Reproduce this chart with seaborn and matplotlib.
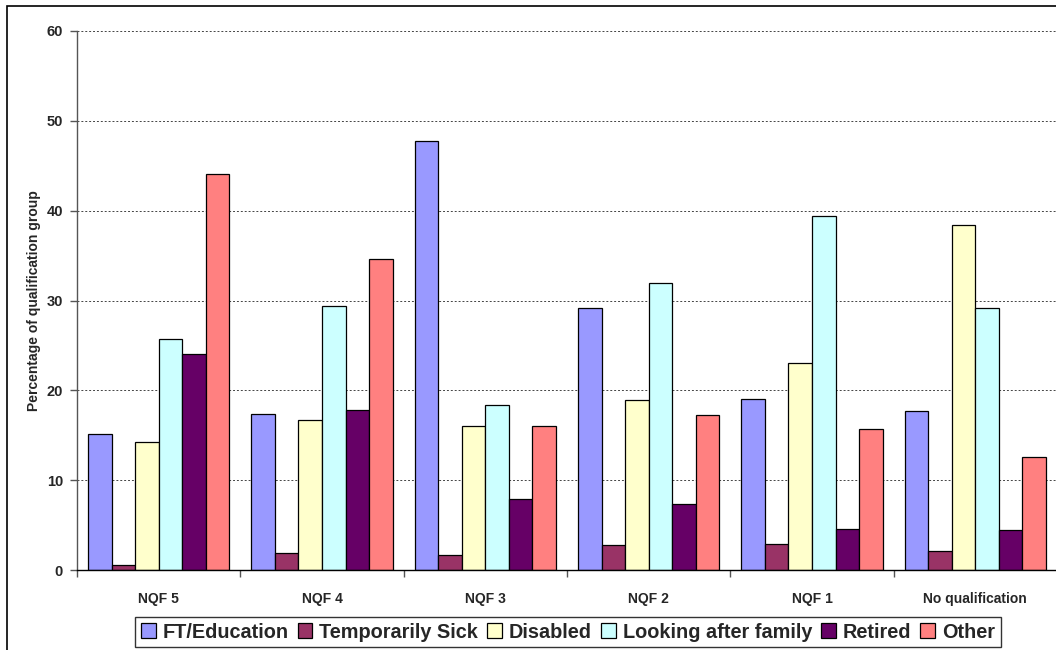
import matplotlib
matplotlib.use("Agg")
import matplotlib.pyplot as plt
import seaborn as sns
import pandas as pd
from matplotlib.patches import Rectangle
from matplotlib.ticker import FixedLocator, MultipleLocator

categories = ["NQF 5", "NQF 4", "NQF 3", "NQF 2", "NQF 1", "No qualification"]
series = ["FT/Education", "Temporarily Sick", "Disabled", "Looking after family", "Retired", "Other"]

ft_education = [15.1, 17.4, 47.7, 29.2, 19.0, 17.7]
temporarily_sick = [0.6, 1.9, 1.7, 2.8, 2.9, 2.1]
disabled = [14.3, 16.7, 16.0, 18.9, 23.0, 38.4]
looking_after_family = [25.7, 29.4, 18.4, 31.9, 39.4, 29.2]
retired = [24.1, 17.8, 7.9, 7.4, 4.6, 4.4]
other = [44.1, 34.6, 16.0, 17.2, 15.7, 12.6]

colors = ["#9999FF", "#993366", "#FFFFCC", "#CCFFFF", "#660066", "#FF8080"]

values = [ft_education, temporarily_sick, disabled, looking_after_family, retired, other]
rows = []
for name, vals in zip(series, values):
    for cat, v in zip(categories, vals):
        rows.append({"Qualification": cat, "Status": name, "Value": v})
df = pd.DataFrame(rows)

sns.set_style("white")
plt.rcParams["font.family"] = ["Liberation Sans", "DejaVu Sans"]
plt.rcParams["font.weight"] = "bold"

fig = plt.figure(figsize=(10.56, 6.5), dpi=100)
ax = fig.add_axes([77 / 1056, 1 - 570 / 650, 980 / 1056, 539 / 650])

sns.barplot(data=df, x="Qualification", y="Value", hue="Status",
            order=categories, hue_order=series, palette=colors,
            width=0.865, edgecolor="black", linewidth=0.9,
            saturation=1, ax=ax, legend=True)

ax.set_ylim(0, 60)
ax.set_xlim(-0.5, len(categories) - 0.5)
ax.yaxis.set_major_locator(MultipleLocator(10))
ax.grid(axis="y", color="#444444", linestyle=(0, (2, 2)), linewidth=0.7)
ax.set_axisbelow(True)

for side in ["top", "right"]:
    ax.spines[side].set_visible(False)
ax.spines["left"].set_color("#555555")
ax.spines["left"].set_linewidth(1.0)
ax.spines["bottom"].set_color("black")
ax.spines["bottom"].set_linewidth(1.0)

ax.tick_params(axis="y", which="major", length=5, width=1, color="#555555",
               labelsize=10.5, pad=5, left=True)
ax.tick_params(axis="x", which="major", length=0, labelsize=10, pad=16)
ax.xaxis.set_minor_locator(FixedLocator([i - 0.5 for i in range(len(categories) + 1)]))
ax.tick_params(axis="x", which="minor", length=5, width=1, color="#555555", bottom=True)
for lbl in ax.get_xticklabels() + ax.get_yticklabels():
    lbl.set_fontweight("bold")

ax.set_xlabel("")
ax.set_ylabel("Percentage of qualification group", fontsize=10, fontweight="bold", labelpad=4)

handles, labels = ax.get_legend_handles_labels()
ax.get_legend().remove()
leg = fig.legend(handles, labels, loc="center", bbox_to_anchor=(568 / 1056, 1 - 632 / 650),
                 ncol=6, frameon=True, fancybox=False, edgecolor="black",
                 prop={"size": 14.3, "weight": "bold"}, handlelength=0.75, handleheight=0.75,
                 handletextpad=0.35, columnspacing=0.45, borderpad=0.3, borderaxespad=0)
leg.get_frame().set_linewidth(1.0)

fig.patches.append(Rectangle((7 / 1056, -0.1), 1.2, 1 - 6 / 650 + 0.1,
                             transform=fig.transFigure, fill=False,
                             edgecolor="black", linewidth=1.2))

fig.savefig("out.png", dpi=100)
